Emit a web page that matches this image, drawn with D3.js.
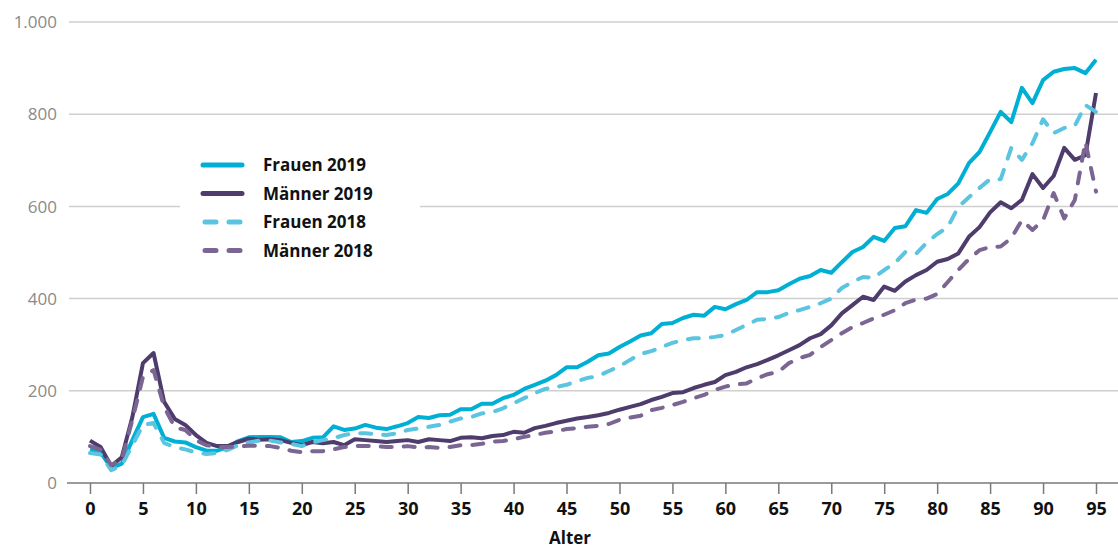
<!DOCTYPE html>
<html>
<head>
<meta charset="utf-8">
<script src="https://cdn.jsdelivr.net/npm/d3@7"></script>
<style>
  body { margin: 0; background: #fff; }
  svg text { font-family: 'Open Sans', sans-serif; }
</style>
</head>
<body>
<div id="chart"></div>
<script>
const ages = d3.range(0, 96)
const xTicks = [0, 5, 10, 15, 20, 25, 30, 35, 40, 45, 50, 55, 60, 65, 70, 75, 80, 85, 90, 95]
const yTicks = [0, 200, 400, 600, 800, 1000]

const frauen2019 = [72, 67, 32, 42, 93, 143, 150, 98, 90, 88, 78, 70, 70, 78, 91, 99, 100, 100, 99, 89,
  91, 98, 99, 123, 115, 118, 126, 120, 117, 123, 130, 143, 141, 147, 148, 160, 160, 172, 172, 184,
  191, 204, 213, 222, 234, 251, 251, 263, 277, 281, 295, 307, 320, 325, 345, 347, 358, 365, 363, 382,
  377, 388, 397, 414, 414, 418, 431, 443, 449, 462, 456, 479, 501, 512, 534, 525, 553, 557, 592, 586,
  616, 627, 650, 694, 718, 761, 805, 783, 857, 824, 874, 892, 898, 900, 889, 918]

const maenner2019 = [92, 78, 37, 56, 143, 260, 282, 176, 139, 126, 104, 87, 80, 80, 89, 96, 94, 95, 93, 87,
  82, 89, 86, 89, 82, 95, 93, 91, 89, 91, 93, 89, 95, 93, 91, 98, 99, 97, 102, 104,
  111, 109, 119, 124, 130, 135, 140, 143, 147, 152, 159, 165, 171, 180, 187, 195, 197, 206, 213, 219,
  234, 241, 251, 258, 267, 277, 288, 299, 314, 323, 342, 368, 386, 404, 397, 426, 417, 437, 451, 462,
  480, 486, 498, 534, 555, 587, 609, 596, 614, 670, 640, 666, 727, 701, 711, 846]

const frauen2018 = [65, 62, 28, 38, 82, 126, 130, 87, 78, 73, 66, 63, 65, 72, 82, 88, 92, 92, 88, 85,
  80, 88, 93, 97, 104, 108, 108, 106, 104, 108, 115, 118, 122, 126, 133, 140, 143, 151, 154, 162,
  173, 184, 195, 204, 208, 213, 221, 228, 232, 243, 253, 267, 280, 286, 295, 304, 310, 314, 314, 317,
  321, 332, 343, 354, 356, 360, 369, 375, 382, 390, 400, 423, 436, 447, 445, 462, 477, 501, 497, 521,
  540, 555, 599, 620, 640, 659, 659, 727, 701, 737, 789, 759, 770, 775, 820, 805]

const maenner2018 = [80, 72, 39, 50, 137, 230, 245, 165, 121, 115, 93, 82, 78, 78, 79, 81, 81, 80, 76, 70,
  67, 69, 69, 73, 78, 80, 80, 80, 78, 78, 80, 77, 78, 76, 78, 82, 82, 85, 90, 91,
  95, 100, 104, 109, 112, 117, 119, 122, 124, 128, 137, 142, 146, 158, 163, 169, 176, 184, 191, 202,
  209, 214, 216, 227, 236, 241, 260, 271, 278, 295, 310, 325, 338, 347, 357, 365, 375, 390, 398, 400,
  410, 436, 462, 486, 505, 512, 513, 531, 570, 549, 570, 629, 574, 614, 740, 632]

const series = [
  { name: 'Frauen 2019', values: frauen2019, color: '#00afd4', dash: null },
  { name: 'Männer 2019', values: maenner2019, color: '#4e3c6c', dash: null },
  { name: 'Frauen 2018', values: frauen2018, color: '#5bc4e0', dash: '11,12' },
  { name: 'Männer 2018', values: maenner2018, color: '#7b6693', dash: '11,12' }
]

const width = 1118
const height = 550

const svg = d3
  .select('#chart')
  .append('svg')
  .attr('width', width)
  .attr('height', height)

const xPositionScale = d3.scaleLinear().domain([0, 95]).range([90, 1096])
const yPositionScale = d3.scaleLinear().domain([0, 1000]).range([483, 22])

const fmt = d3.formatLocale({ decimal: ',', thousands: '.', grouping: [3], currency: ['', '€'] }).format(',')

// gridlines
svg
  .selectAll('.grid')
  .data(yTicks.filter(d => d > 0))
  .enter()
  .append('line')
  .attr('class', 'grid')
  .attr('x1', 69)
  .attr('x2', width)
  .attr('y1', d => yPositionScale(d))
  .attr('y2', d => yPositionScale(d))
  .attr('stroke', '#cfcfcf')
  .attr('stroke-width', 1.5)

// y labels
svg
  .selectAll('.ylabel')
  .data(yTicks)
  .enter()
  .append('text')
  .attr('class', 'ylabel')
  .attr('x', 57)
  .attr('y', d => yPositionScale(d))
  .attr('dy', '0.36em')
  .attr('text-anchor', 'end')
  .attr('fill', '#8a8a8a')
  .attr('font-size', 17)
  .text(d => fmt(d))

// x axis
const xAxis = d3.axisBottom(xPositionScale)
  .tickValues(xTicks)
  .tickSize(11)
  .tickPadding(8)
  .tickFormat(d3.format('d'))

const xg = svg
  .append('g')
  .attr('class', 'axis x-axis')
  .attr('transform', 'translate(0,' + yPositionScale(0) + ')')
  .call(xAxis)

xg.select('.domain').remove()
xg.selectAll('.tick line').attr('stroke', '#7a7a7a').attr('stroke-width', 1.5)
xg.selectAll('.tick text')
  .attr('font-size', 18)
  .attr('font-weight', 'bold')
  .attr('fill', '#111')
  .attr('font-family', "'Open Sans', sans-serif")

xg.append('line')
  .attr('x1', 67)
  .attr('x2', width)
  .attr('y1', 0)
  .attr('y2', 0)
  .attr('stroke', '#7a7a7a')
  .attr('stroke-width', 1.5)

svg
  .append('text')
  .attr('x', 570)
  .attr('y', 544)
  .attr('text-anchor', 'middle')
  .attr('font-size', 17)
  .attr('font-weight', 'bold')
  .attr('fill', '#111')
  .text('Alter')

// lines
const line = d3.line()
  .x((d, i) => xPositionScale(ages[i]))
  .y(d => yPositionScale(d))

svg
  .selectAll('.series')
  .data(series)
  .enter()
  .append('path')
  .attr('class', 'series')
  .attr('d', d => line(d.values))
  .attr('fill', 'none')
  .attr('stroke', d => d.color)
  .attr('stroke-width', 4)
  .attr('stroke-linejoin', 'round')
  .attr('stroke-linecap', d => d.dash ? 'round' : 'butt')
  .attr('stroke-dasharray', d => d.dash)

// legend
const legend = svg.append('g').attr('transform', 'translate(180,140)')

legend
  .append('rect')
  .attr('width', 240)
  .attr('height', 126)
  .attr('fill', '#fff')

const item = legend
  .selectAll('.item')
  .data(series)
  .enter()
  .append('g')
  .attr('transform', (d, i) => 'translate(0,' + (25 + i * 28.5) + ')')

item
  .append('line')
  .attr('x1', d => d.dash ? 25 : 23)
  .attr('x2', d => d.dash ? 60 : 62)
  .attr('stroke', d => d.color)
  .attr('stroke-width', 5)
  .attr('stroke-linecap', 'round')
  .attr('stroke-dasharray', d => d.dash ? '11,13' : null)

item
  .append('text')
  .attr('x', 83)
  .attr('dy', '0.36em')
  .attr('font-size', 17)
  .attr('font-weight', 'bold')
  .attr('fill', '#111')
  .text(d => d.name)
</script>
</body>
</html>
